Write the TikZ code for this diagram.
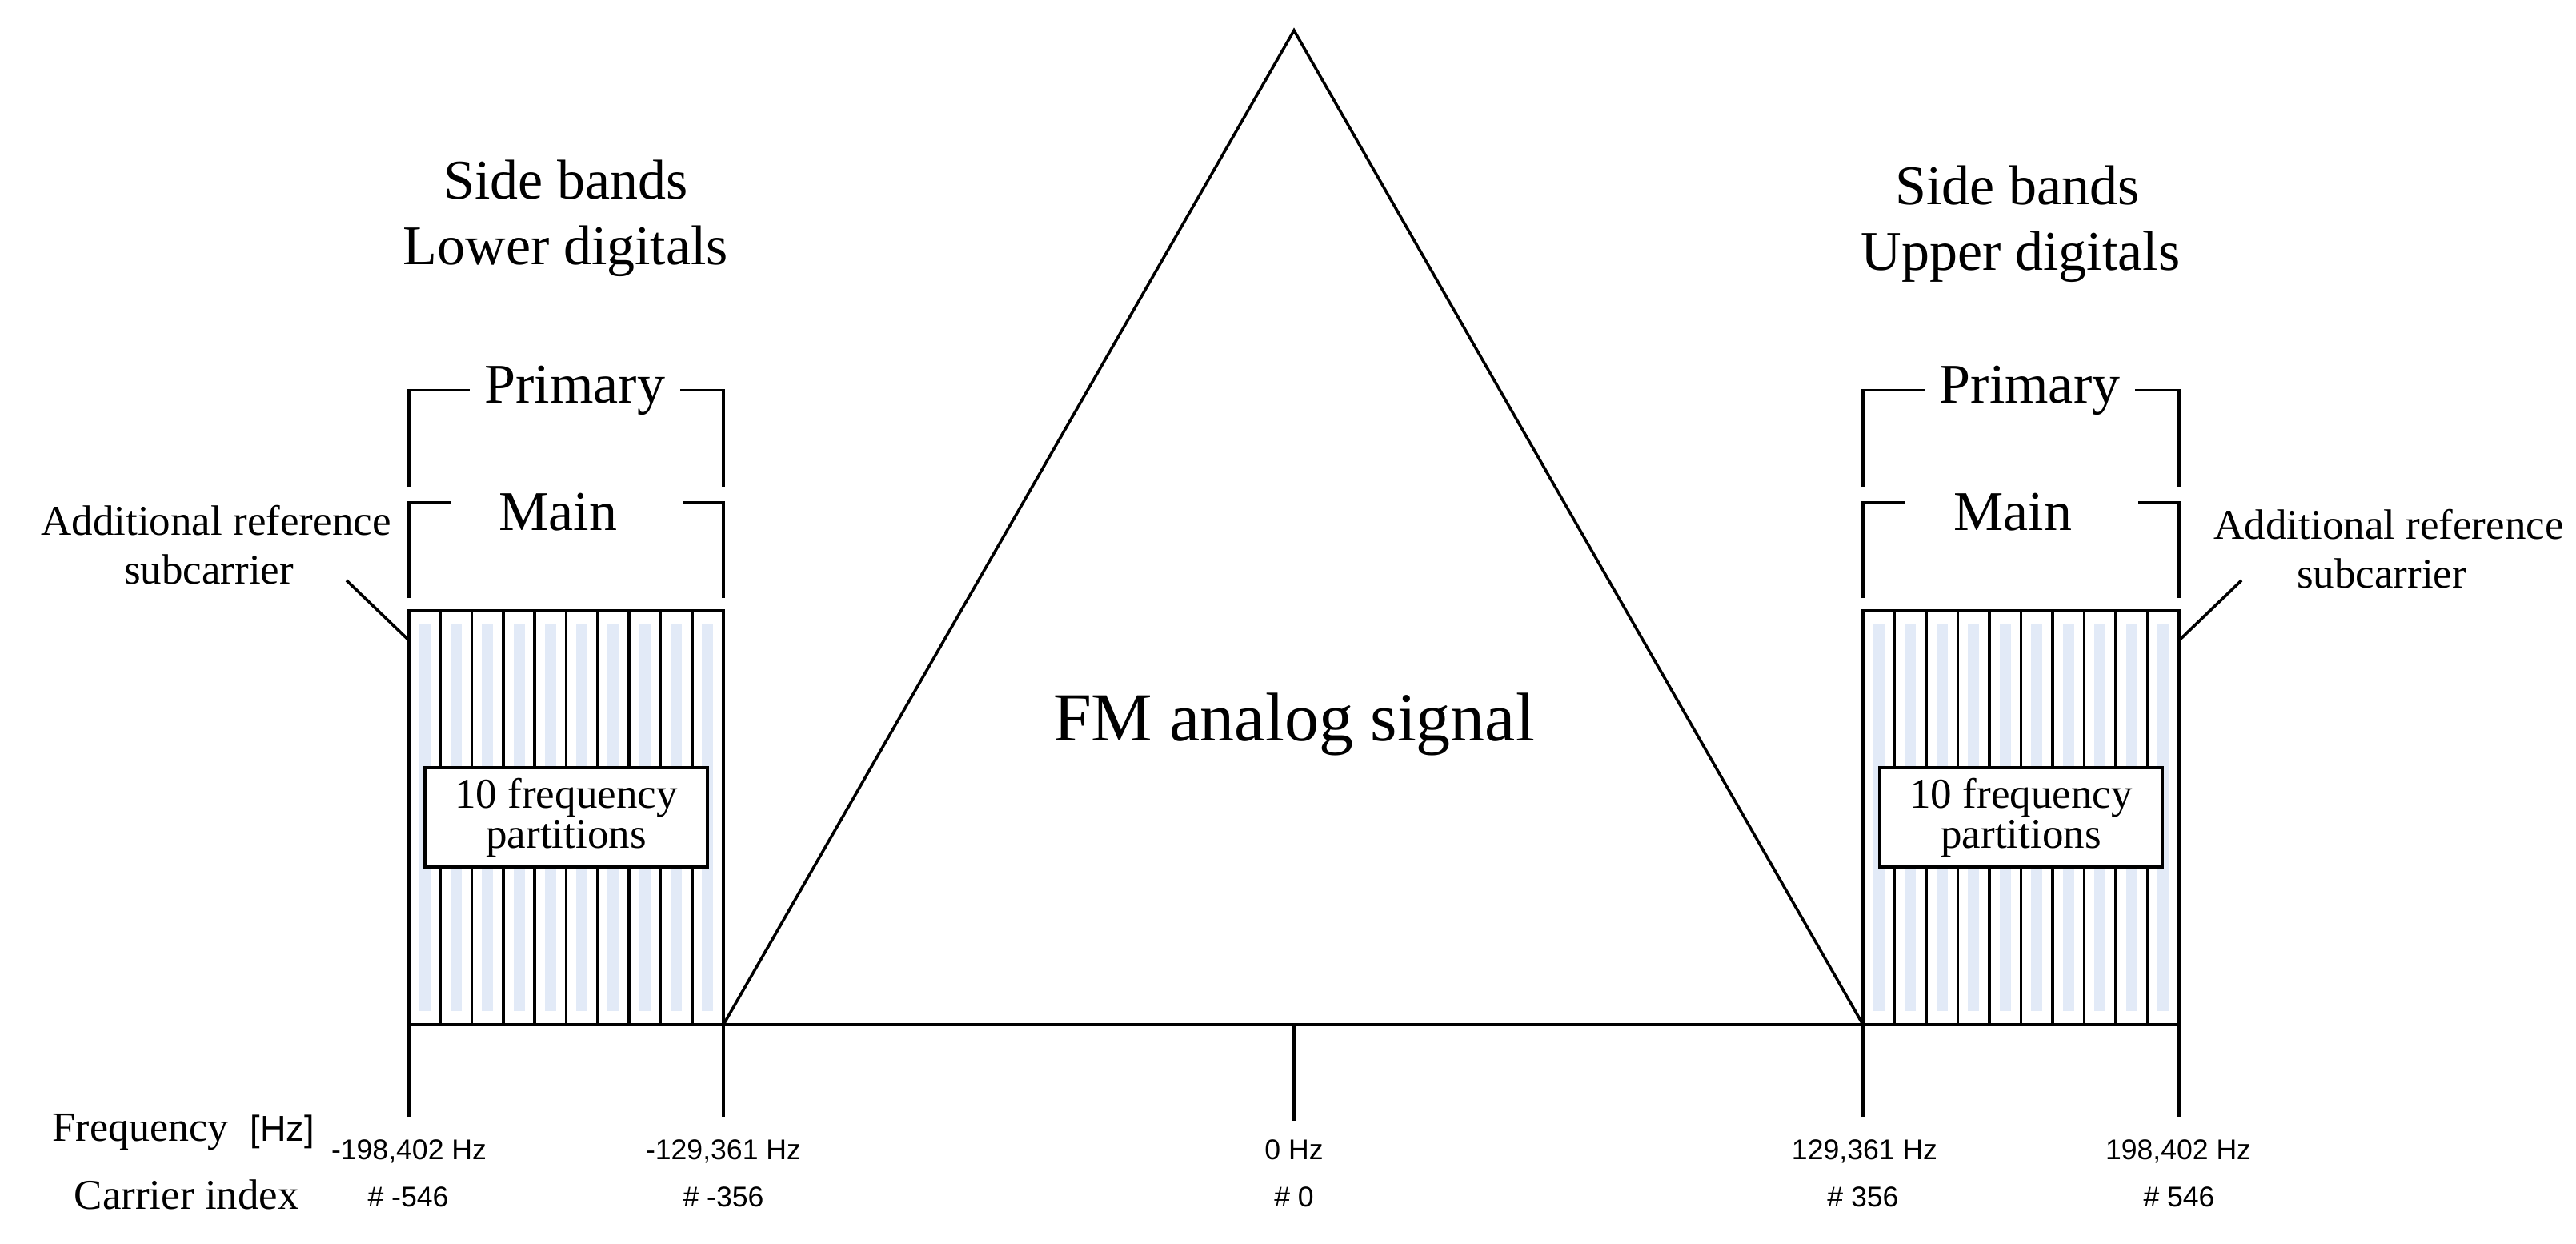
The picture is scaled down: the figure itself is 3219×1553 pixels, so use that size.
\documentclass[tikz,border=0pt]{standalone}
\usepackage{fontspec}
\setmainfont{Liberation Serif}
\setsansfont{Liberation Sans}
\definecolor{stripeblue}{RGB}{226,234,247}
\begin{document}
\begin{tikzpicture}[x=0.25pt,y=-0.25pt,
  ln/.style={line width=0.9pt, draw=black},
  ax/.style={line width=1.1pt, draw=black},
  big/.style={font=\fontsize{17.5}{21}\selectfont, inner sep=0pt, anchor=base},
  mid/.style={font=\fontsize{13.25}{16}\selectfont, inner sep=0pt, anchor=base},
  fm/.style={font=\fontsize{21.5}{25}\selectfont, inner sep=0pt, anchor=base},
  lab/.style={font=\sffamily\fontsize{8.9}{10}\selectfont, inner sep=0pt, anchor=base},
  partbox/.style={ln, fill=white, minimum width=88.25pt, minimum height=31pt, inner sep=0pt,
     align=center, font=\fontsize{13.25}{13}\selectfont}]
\useasboundingbox (0,0) rectangle (3219,1553);

% ---------- bands ----------
\foreach \L/\R/\n in {511/904/L, 2328/2723/R}{
  \pgfmathsetmacro\w{(\R-\L)/10}
  \pgfmathsetmacro\C{(\L+\R)/2}
  \foreach \k in {0,...,9}{
    \fill[stripeblue] ({\L+(\k+0.5)*\w-7},780) rectangle ({\L+(\k+0.5)*\w+7},1263);
  }
  \foreach \k in {1,...,9}{
    \draw[ln] ({\L+\k*\w},763) -- ({\L+\k*\w},1280);
  }
  \coordinate (tl\n) at (\L,763);
  \coordinate (tr\n) at (\R,763);
  \coordinate (bl\n) at (\L,1395);
  \coordinate (br\n) at (\R,1395);
  \draw[ln] (bl\n) -- (tl\n) -- (tr\n) -- (br\n);
  \node[partbox] (box\n) at (\C,1021) {10 frequency\\[-0.5pt]partitions};
  % Primary bracket
  \node[big] (prim\n) at (\C+11,503) {Primary};
  \draw[ln] (\L,608) |- ([xshift=-4.5pt]prim\n.west);
  \draw[ln] ([xshift=4.5pt]prim\n.east) -| (\R,608);
  % Main bracket
  \node[big] (main\n) at (\C-10,662) {Main};
  \draw[ln] (\L,747) -- (\L,628) -- (\L+53,628);
  \draw[ln] (\R-51,628) -- (\R,628) -- (\R,747);
}

% ---------- side band titles ----------
\node[big] (sbL1) at (707,248) {Side bands};
\node[big] (sbL2) at (707,330) {Lower digitals};
\node[big] (sbR1) at (2521,255) {Side bands};
\node[big] (sbR2) at (2525,337) {Upper digitals};

% ---------- additional reference subcarrier ----------
\node[mid] (arL1) at (270,668) {Additional reference};
\node[mid] (arL2) at (261,729) {subcarrier};
\node[mid] (arR1) at (2985,673) {Additional reference};
\node[mid] (arR2) at (2976,734) {subcarrier};
\coordinate (ldL1) at (433,725);
\coordinate (ldL2) at (511,800);
\coordinate (ldR1) at (2801,725);
\coordinate (ldR2) at (2723,800);
\draw[ln] (ldL1) -- (ldL2);
\draw[ln] (ldR1) -- (ldR2);

% ---------- triangle and axis ----------
\coordinate (apex) at (1617,38);
\coordinate (tbl) at (904,1280);
\coordinate (tbr) at (2328,1280);
\coordinate (axL) at (511,1280);
\coordinate (axR) at (2723,1280);
\coordinate (c0) at (1617,1280);
\coordinate (c0b) at (1617,1400);
\draw[ln] (tbl) -- (apex) -- (tbr);
\draw[ax] (axL) -- (axR);
\draw[ln] (c0) -- (c0b);
\node[fm] (fmsig) at (1617,925) {FM analog signal};

% ---------- bottom labels ----------
\node[font=\fontsize{13}{15}\selectfont, inner sep=0pt, anchor=base west] (freq) at (65,1425) {Frequency};
\node[font=\sffamily\fontsize{11.25}{13}\selectfont, inner sep=0pt, anchor=base west] (hz) at (312,1425) {[Hz]};
\node[font=\fontsize{13.25}{15}\selectfont, inner sep=0pt, anchor=base west] (cidx) at (92,1510) {Carrier index};

\node[lab] (f1) at (511,1448) {-198,402 Hz};
\node[lab] (f2) at (904,1448) {-129,361 Hz};
\node[lab] (f3) at (1617,1448) {0 Hz};
\node[lab] (f4) at (2330,1448) {129,361 Hz};
\node[lab] (f5) at (2722,1448) {198,402 Hz};
\node[lab] (i1) at (510,1507) {\# -546};
\node[lab] (i2) at (904,1507) {\# -356};
\node[lab] (i3) at (1617,1507) {\# 0};
\node[lab] (i4) at (2328,1507) {\# 356};
\node[lab] (i5) at (2723,1507) {\# 546};
\end{tikzpicture}
\end{document}
